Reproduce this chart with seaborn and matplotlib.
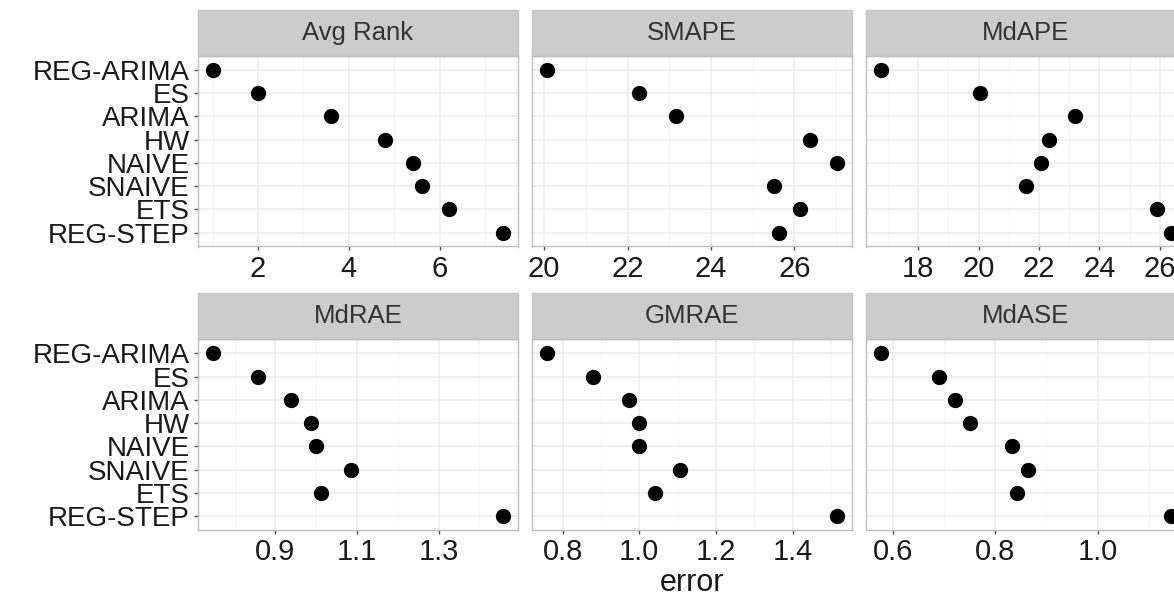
import matplotlib
matplotlib.use('Agg')
import matplotlib.pyplot as plt
from matplotlib.patches import Rectangle
import numpy as np
import pandas as pd
import seaborn as sns

methods = ['REG-ARIMA', 'ES', 'ARIMA', 'HW', 'NAIVE', 'SNAIVE', 'ETS', 'REG-STEP']
metrics = ['Avg Rank', 'SMAPE', 'MdAPE', 'MdRAE', 'GMRAE', 'MdASE']

avg_rank = [1.0, 2.0, 3.6, 4.8, 5.4, 5.6, 6.2, 7.4]
smape = [20.06, 22.27, 23.15, 26.37, 27.03, 25.51, 26.13, 25.63]
mdape = [16.75, 20.06, 23.19, 22.33, 22.07, 21.57, 25.92, 26.39]
mdrae = [0.746, 0.857, 0.938, 0.987, 0.999, 1.086, 1.013, 1.459]
gmrae = [0.758, 0.879, 0.974, 1.0, 1.0, 1.106, 1.041, 1.517]
mdase = [0.576, 0.691, 0.721, 0.750, 0.832, 0.863, 0.842, 1.144]

# major x ticks per panel (minor ones sit halfway between)
ticks_rank = [2, 4, 6]
ticks_smape = [20, 22, 24, 26]
ticks_mdape = [18, 20, 22, 24, 26]
ticks_mdrae = [0.9, 1.1, 1.3]
ticks_gmrae = [0.8, 1.0, 1.2, 1.4]
ticks_mdase = [0.6, 0.8, 1.0]
labels_rank = ['2', '4', '6']
labels_smape = ['20', '22', '24', '26']
labels_mdape = ['18', '20', '22', '24', '26']
labels_mdrae = ['0.9', '1.1', '1.3']
labels_gmrae = ['0.8', '1.0', '1.2', '1.4']
labels_mdase = ['0.6', '0.8', '1.0']

values = [avg_rank, smape, mdape, mdrae, gmrae, mdase]
ticks = [ticks_rank, ticks_smape, ticks_mdape, ticks_mdrae, ticks_gmrae, ticks_mdase]
tick_labels = [labels_rank, labels_smape, labels_mdape, labels_mdrae, labels_gmrae, labels_mdase]

rows = []
for m, vals in zip(metrics, values):
    for meth, v in zip(methods, vals):
        rows.append({'metric': m, 'method': meth, 'error': v})
df = pd.DataFrame(rows)

sns.set_theme(style='white')
plt.rcParams['font.family'] = ['Liberation Sans', 'DejaVu Sans']

W, H = 1174, 602
g = sns.FacetGrid(df, col='metric', col_order=metrics, col_wrap=3,
                  sharex=False, sharey=True, despine=False, height=3, aspect=1)
g.map_dataframe(sns.stripplot, x='error', y='method', order=methods,
                jitter=False, color='black', size=11, linewidth=0)
g.figure.set_size_inches(W / 100, H / 100)
g.figure.subplots_adjust(left=198 / W, right=1186 / W, bottom=1 - 530 / H,
                         top=1 - 56 / H, wspace=14 / 320, hspace=93 / 190.5)
g.set_titles('')
g.set_axis_labels('', '')

for i, ax in enumerate(g.axes.flat):
    major = ticks[i]
    step = major[1] - major[0]
    minor = [major[0] - step / 2 + k * step for k in range(len(major) + 2)]
    ax.set_xticks(major)
    ax.set_xticklabels(tick_labels[i])
    ax.set_xticks(minor, minor=True)
    # ggplot-style 5% expansion, set after ticks so they don't widen the view
    vals = np.array(values[i])
    span = vals.max() - vals.min()
    ax.set_xlim(vals.min() - 0.05 * span, vals.max() + 0.05 * span)
    ax.set_ylim(len(methods) - 0.4, -0.6)
    ax.grid(True, which='major', color='#EBEBEB', lw=1.1, zorder=0)
    ax.grid(True, which='minor', axis='x', color='#F4F4F4', lw=0.6, zorder=0)
    ax.set_axisbelow(True)
    for s in ax.spines.values():
        s.set_color('#BDBDBD')
        s.set_linewidth(1.0)
    ax.tick_params(axis='x', which='major', length=3, width=1, color='#4D4D4D',
                   labelsize=21, labelcolor='#1A1A1A', pad=3, bottom=True)
    ax.tick_params(axis='x', which='minor', length=0)
    if i % 3 == 0:
        ax.tick_params(axis='y', length=3, width=1, color='#4D4D4D',
                       labelsize=20, labelcolor='#1A1A1A', pad=3, left=True)
    else:
        ax.tick_params(axis='y', length=0, labelleft=False)
    # ggplot-like strip above each panel
    sh = 46 / 190.5
    ax.add_patch(Rectangle((0, 1), 1, sh, transform=ax.transAxes, clip_on=False,
                           facecolor='#CCCCCC', edgecolor='#C4C4C4', lw=1.0))
    ax.text(0.5, 1 + sh / 2, metrics[i], transform=ax.transAxes, ha='center',
            va='center', fontsize=18.5, color='#333333')

g.figure.text(692 / W, 1 - 583 / H, 'error', ha='center', va='center',
              fontsize=22, color='#1A1A1A')

g.figure.savefig('out.png', dpi=100)
